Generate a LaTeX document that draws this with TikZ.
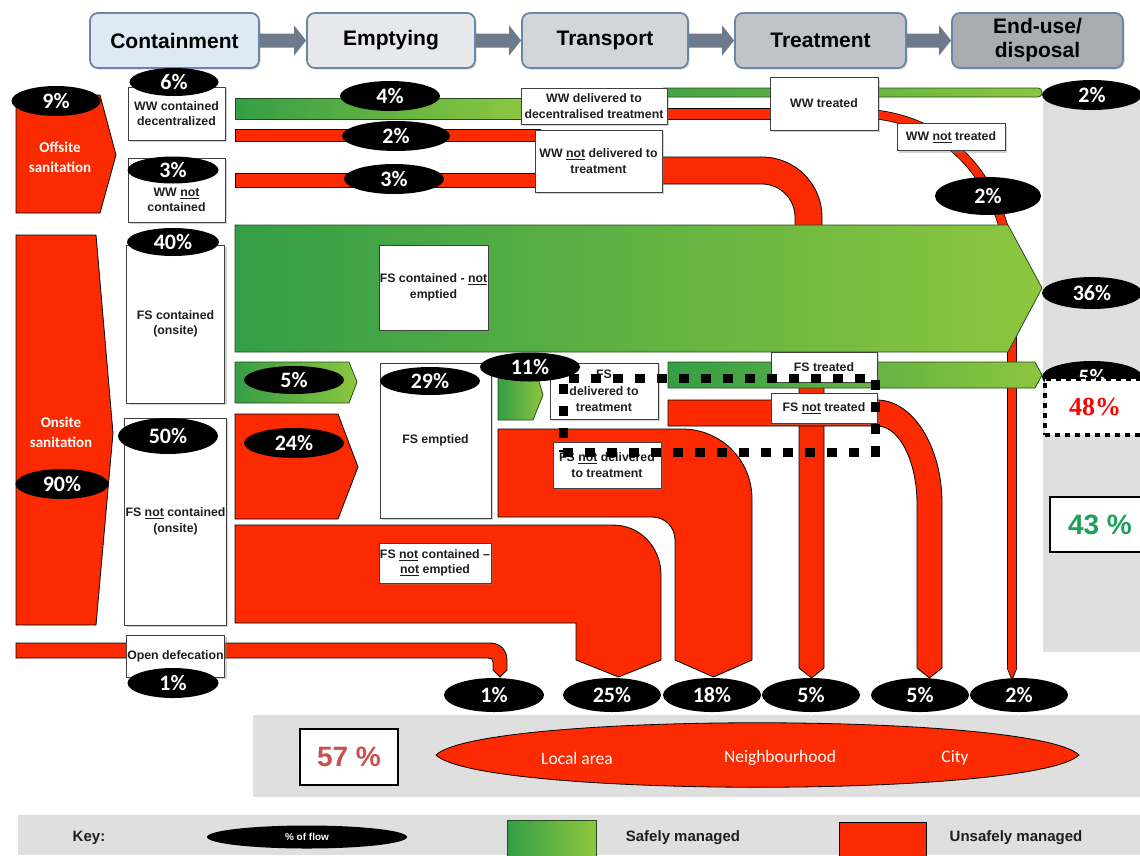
\documentclass[tikz,border=0pt]{standalone}
\usepackage{fontspec}
\setmainfont{Liberation Sans}
\newfontfamily\calib{Carlito}
\newfontfamily\serifb{Liberation Serif}
\usetikzlibrary{shapes.geometric,shadows,calc}
\definecolor{myred}{RGB}{252,42,0}
\definecolor{gA}{RGB}{52,158,70}
\definecolor{gB}{RGB}{141,198,63}
\definecolor{gline}{RGB}{35,75,30}
\definecolor{panel}{RGB}{223,223,223}
\definecolor{hdrline}{RGB}{105,135,165}
\definecolor{hA}{RGB}{221,234,246}
\definecolor{hB}{RGB}{230,232,235}
\definecolor{hC}{RGB}{210,213,217}
\definecolor{hD}{RGB}{192,195,199}
\definecolor{hE}{RGB}{168,171,175}
\definecolor{arrc}{RGB}{108,122,140}
\definecolor{txtc}{RGB}{30,30,30}
\definecolor{redtxt}{RGB}{200,80,77}
\definecolor{greentxt}{RGB}{30,160,90}
\tikzset{
  hdr/.style={draw=hdrline, line width=1.8pt, rounded corners=8pt, minimum height=55pt, inner sep=0pt,
    font=\bfseries\fontsize{21}{24}\selectfont, align=center,
    drop shadow={opacity=0.3,shadow xshift=1.5pt,shadow yshift=-1.5pt}},
  redshape/.style={fill=myred, draw=black, line width=0.8pt},
  greenshape/.style={left color=gA, right color=gB, draw=gline, line width=0.8pt},
  box/.style={draw=black!75, fill=white, line width=0.7pt, inner sep=1pt, align=center, text=txtc,
    font=\bfseries\fontsize{12.3}{15.5}\selectfont,
    drop shadow={opacity=0.35,shadow xshift=2pt,shadow yshift=-2pt}},
  pct/.style={ellipse, fill=black, text=white, inner sep=0pt, font=\calib\bfseries\fontsize{22}{22}\selectfont},
  whitetxt/.style={text=white, font=\calib\bfseries\fontsize{15}{20}\selectfont, align=center},
  bigbox/.style={draw=black, line width=2pt, fill=white, inner sep=0pt, font=\bfseries\fontsize{28}{28}\selectfont},
  keytxt/.style={text=txtc, font=\bfseries\fontsize{15}{18}\selectfont},
  lenstxt/.style={text=white, font=\calib\fontsize{17.5}{20}\selectfont},
}
\begin{document}
\begin{tikzpicture}[x=1pt,y=-1pt]
\useasboundingbox (0,0) rectangle (1140,855);
\clip (0,0) rectangle (1140,855);
\fill[white] (0,0) rectangle (1140,855);
% panels
\fill[panel] (1043,100) rectangle (1140,652);
\fill[panel] (253,715) rectangle (1140,797);
\fill[panel] (18,815) rectangle (1140,855);
% header
\node[hdr, fill=hA, minimum width=169pt] (h1) at (174.5,40.5) {Containment};
\node[hdr, fill=hB, minimum width=168pt] (h2) at (391,40.5) {Emptying};
\node[hdr, fill=hC, minimum width=166pt] (h3) at (605,40.5) {Transport};
\node[hdr, fill=hD, minimum width=171pt] (h4) at (820.5,40.5) {Treatment};
\node[hdr, fill=hE, minimum width=171pt] (h5) at (1037.5,40.5) {End-use/\\disposal};
\foreach \a/\b in {h1/h2,h2/h3,h3/h4,h4/h5}{
  \fill[arrc] ($(\a.east)+(0,-7)$) -- ($(\b.west)+(-12,-7)$) -- ($(\b.west)+(-12,-15)$) -- (\b.west)
    -- ($(\b.west)+(-12,15)$) -- ($(\b.west)+(-12,7)$) -- ($(\a.east)+(0,7)$) -- cycle;
}
% WW not treated line (2%)
\draw[draw=black, double=myred, double distance=8pt, line width=0.8pt]
  (870,114) .. controls (950,120) and (1012,185) .. (1012,290) -- (1012,668);
\fill[myred] (1007.2,666) -- (1012,680) -- (1016.8,666) -- cycle;
\draw[line width=0.8pt] (1007.2,668) -- (1012,680) -- (1016.8,668);
% WW not delivered thick red
\path[redshape] (655,157) -- (762,157) .. controls (795,157) and (822,184) .. (822,217) -- (822,232)
  -- (795,232) -- (795,217) .. controls (795,199) and (780,184) .. (762,184) -- (655,184) -- cycle;
% red vertical 5% (treatment)
\path[redshape] (799,372) -- (824,372) -- (824,668) -- (811.5,678) -- (799,668) -- cycle;
% big green arrow 36%
\path[greenshape] (235,225) -- (1008,225) -- (1042,288) -- (1008,352) -- (235,352) -- cycle;
% WW bars
\path[left color=gA!85!gB, right color=gB, draw=gline, line width=0.8pt, rounded corners=4pt] (660,88) rectangle (1042,97);
\path[greenshape] (235,98) rectangle (522,119);
\path[redshape] (235,129) rectangle (540,141);
\path[redshape] (660,108) rectangle (775,119);
\path[redshape] (235,173) rectangle (540,187);
% onsite flows
\path[greenshape] (235,362) -- (349,362) -- (357,382) -- (349,403) -- (235,403) -- cycle;
\path[redshape] (235,414) -- (338,414) -- (358,467) -- (338,519) -- (235,519) -- cycle;
\path[greenshape] (498,378) -- (538,378) -- (543,395) -- (533,420) -- (498,420) -- cycle;
\path[greenshape] (668,362) -- (1035,362) -- (1042,375) -- (1035,388) -- (668,388) -- cycle;
\path[redshape] (668,400) -- (877,400) .. controls (913,400) and (942,447) .. (942,503) -- (942,668)
  -- (929.5,678) -- (917,668) -- (917,503) .. controls (917,463) and (900,426) .. (877,426) -- (668,426) -- cycle;
\path[redshape] (498,429) -- (682,429) .. controls (721,429) and (752,460) .. (752,499) -- (752,660)
  -- (713.5,677) -- (675,660) -- (675,540) .. controls (675,527) and (665,517) .. (652,517) -- (498,517) -- cycle;
\path[redshape] (235,525) -- (613,525) .. controls (640,525) and (661,547) .. (661,575) -- (661,660)
  -- (618.5,677) -- (576,660) -- (576,623) -- (235,623) -- cycle;
\path[redshape] (16,643) -- (490,643) .. controls (500,643) and (507,650) .. (507,660) -- (507,670)
  -- (500,677) -- (493,670) -- (493,662) .. controls (493,659) and (491,658) .. (488,658) -- (16,658) -- cycle;
% sanitation blocks
\path[redshape] (16,95) -- (100,95) -- (116,155) -- (100,213) -- (16,213) -- cycle;
\node[whitetxt] (offs) at (60,157) {Offsite\\sanitation};
\path[redshape] (16,235) -- (96,235) -- (113,433) -- (96,625) -- (16,625) -- cycle;
\node[whitetxt] (ons) at (61,432) {Onsite\\sanitation};
% boxes
\node[box, minimum width=97pt, minimum height=53pt] (wwc) at (176.5,113.5) {WW contained\\decentralized};
\node[box, minimum width=97pt, minimum height=64pt] (wwn) at (176.5,190) {\raisebox{-14pt}[0pt][0pt]{\begin{tabular}{@{}c@{}}WW \underline{not}\\contained\end{tabular}}};
\node[box, minimum width=98pt, minimum height=158pt] (fsc) at (175.5,324) {FS contained\\(onsite)};
\node[box, minimum width=99pt, minimum height=207pt] (fsn) at (175.5,521.5) {FS \underline{not} contained\\(onsite)};
\node[box, minimum width=97pt, minimum height=42pt] (od) at (175.5,656) {Open defecation};
\node[box, minimum width=146pt, minimum height=36pt] (wwd) at (594,106) {WW delivered to\\decentralised treatment};
\node[box, minimum width=127pt, minimum height=62pt] (wwnd) at (598.5,161) {WW \underline{not} delivered to\\treatment};
\node[box, minimum width=108pt, minimum height=53pt] (wwt) at (824,103.5) {WW treated};
\node[box, minimum width=108pt, minimum height=27pt] (wwnt) at (951,137) {WW \underline{not} treated};
\node[box, minimum width=107pt, minimum height=85pt] (fscne) at (433.5,287.5) {FS contained - \underline{not}\\emptied};
\node[box, minimum width=111pt, minimum height=155pt] (fse) at (435.5,440.5) {FS emptied};
\node[box, minimum width=108pt, minimum height=56pt, font=\bfseries\fontsize{12.3}{16.5}\selectfont] (fsd) at (604,391) {FS\\delivered to\\treatment};
\node[box, minimum width=108pt, minimum height=46pt] (fsnd) at (607,465) {FS \underline{not} delivered\\to treatment};
\node[box, minimum width=106pt, minimum height=30pt] (fst) at (824,367) {FS treated};
\node[box, minimum width=106pt, minimum height=30pt] (fsnt) at (824,408) {FS \underline{not} treated};
\node[box, minimum width=110pt, minimum height=40pt] (fsncne) at (435,563) {FS \underline{not} contained --\\\underline{not} emptied};
% percentage ellipses
\node[pct, minimum width=89pt, minimum height=30pt] (e9) at (56,101) {9\%};
\node[pct, minimum width=93pt, minimum height=30pt] (e90) at (62,484) {90\%};
\node[pct, minimum width=89pt, minimum height=28pt] (e6) at (174,82) {6\%};
\node[pct, minimum width=91pt, minimum height=27pt] (e3a) at (173,170) {3\%};
\node[pct, minimum width=92pt, minimum height=28pt] (e40) at (173,242) {40\%};
\node[pct, minimum width=100pt, minimum height=36pt] (e50) at (168,436) {50\%};
\node[pct, minimum width=91pt, minimum height=30pt] (e1a) at (173,683) {1\%};
\node[pct, minimum width=100pt, minimum height=30pt] (e4) at (390,96) {4\%};
\node[pct, minimum width=108pt, minimum height=30pt] (e2a) at (396,136) {2\%};
\node[pct, minimum width=100pt, minimum height=30pt] (e3b) at (394,179) {3\%};
\node[pct, minimum width=100pt, minimum height=28pt] (e5a) at (294,380) {5\%};
\node[pct, minimum width=100pt, minimum height=30pt] (e24) at (294,443) {24\%};
\node[pct, minimum width=100pt, minimum height=28pt] (e29) at (430,381) {29\%};
\node[pct, minimum width=100pt, minimum height=29pt] (e11) at (530,367) {11\%};
\node[pct, minimum width=100pt, minimum height=30pt] (e2b) at (1092,95) {2\%};
\node[pct, minimum width=106pt, minimum height=38pt] (e2c) at (988,196) {2\%};
\node[pct, minimum width=100pt, minimum height=32pt] (e36) at (1092,293) {36\%};
\node[pct, minimum width=100pt, minimum height=32pt] (e5b) at (1092,377) {5\%};
\node[pct, minimum width=100pt, minimum height=34pt] (e1b) at (494,695) {1\%};
\node[pct, minimum width=98pt, minimum height=34pt] (e25) at (612,695) {25\%};
\node[pct, minimum width=98pt, minimum height=34pt] (e18) at (712,695) {18\%};
\node[pct, minimum width=98pt, minimum height=34pt] (e5c) at (811,695) {5\%};
\node[pct, minimum width=98pt, minimum height=34pt] (e5d) at (920,695) {5\%};
\node[pct, minimum width=98pt, minimum height=34pt] (e2d) at (1019,695) {2\%};
% result boxes
\node[draw=black, fill=white, line width=4.5pt, dash pattern=on 5pt off 5pt, minimum width=100pt, minimum height=56pt,
  inner sep=0pt, text=red, font=\serifb\bfseries\fontsize{26}{26}\selectfont] (p48) at (1095,407) {48\%};
\node[bigbox, text=greentxt, minimum width=100pt, minimum height=55pt] (p43) at (1100,524.5) {43 \%};
% bottom band
\node[bigbox, text=redtxt, minimum width=98pt, minimum height=56pt] (p57) at (349,757) {57 \%};
\path[redshape] (436,755) .. controls (480,712) and (1035,712) .. (1079,755) .. controls (1035,798) and (480,798) .. (436,755) -- cycle;
\node[lenstxt] (la) at (577,758) {Local area};
\node[lenstxt] (nb) at (780,758) {Neighbourhood};
\node[lenstxt] (ct) at (955,758) {City};
% key
\node[keytxt] (key) at (89,838) {Key:};
\node[ellipse, fill=black, minimum width=200pt, minimum height=23pt, inner sep=0pt, text=white,
  font=\bfseries\fontsize{10}{10}\selectfont] (kf) at (307,837) {\% of flow};
\path[greenshape] (507,820) rectangle (596,858);
\node[keytxt] (ks) at (683,838) {Safely managed};
\path[redshape] (839,822) rectangle (926,858);
\node[keytxt] (ku) at (1016,838) {Unsafely managed};
% dotted selection
\node[draw=black, line width=9pt, dash pattern=on 10pt off 12pt, minimum width=312pt, minimum height=74pt, inner sep=0pt] (sel) at (719,415) {};
\end{tikzpicture}
\end{document}
